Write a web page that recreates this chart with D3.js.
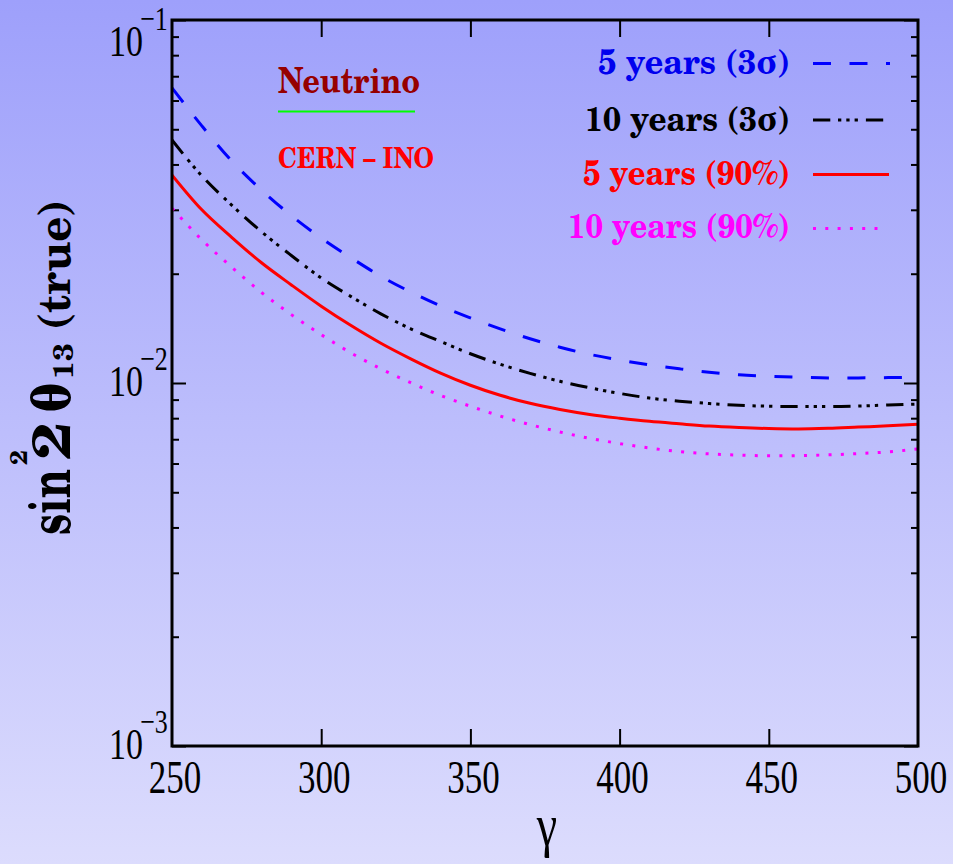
<!DOCTYPE html>
<html>
<head>
<meta charset="utf-8">
<script src="https://cdn.jsdelivr.net/npm/d3@7"></script>
<style>
body { margin: 0; }
svg { display: block; }
</style>
</head>
<body>
<div id="chart"></div>
<script>
// gamma values (x) and the four sensitivity curves
const gammaValues = [250,260,270,280,290,300,310,320,330,340,350,360,370,380,390,400,410,420,430,440,450,460,470,480,490,500];
const fiveYears3Sigma = [0.0650,0.0511,0.0409,0.0340,0.0289,0.02508,0.02213,0.01968,0.01781,0.01630,0.01511,0.01409,0.01324,0.01255,0.01199,0.01157,0.01122,0.01094,0.01070,0.01054,0.01044,0.01037,0.01033,0.01033,0.01035,0.01038];
const tenYears3Sigma = [0.0467,0.0372,0.0309,0.0261,0.02245,0.01947,0.01730,0.01551,0.01410,0.01301,0.01204,0.01126,0.01063,0.01011,0.00970,0.00936,0.00909,0.00891,0.00878,0.00868,0.00863,0.00861,0.00861,0.00864,0.00870,0.00875];
const fiveYears90 = [0.0374,0.0300,0.0252,0.02144,0.01863,0.01628,0.01440,0.01287,0.01166,0.01065,0.00986,0.00925,0.00879,0.00845,0.00819,0.00800,0.00784,0.00772,0.00761,0.00754,0.00749,0.00747,0.00750,0.00756,0.00762,0.00770];
const tenYears90 = [0.0303,0.0248,0.02085,0.01776,0.01543,0.01359,0.01210,0.01094,0.01002,0.00924,0.00863,0.00811,0.00768,0.00733,0.00704,0.00681,0.00662,0.00647,0.00638,0.00633,0.00630,0.00631,0.00634,0.00639,0.00646,0.00658];

const seriesNames = ["5 years (3\u03c3)", "10 years (3\u03c3)", "5 years (90%)", "10 years (90%)"];
const xTickValues = [250,300,350,400,450,500];
const yDecades = [1e-3, 1e-2, 1e-1];
const yDecadeExponents = ["\u22123", "\u22122", "\u22121"];

const W = 953, H = 864;
const plot = { left: 172, right: 918, top: 20, bottom: 746 };

const svg = d3.select("#chart").append("svg")
  .attr("width", W).attr("height", H);

// background gradient
const defs = svg.append("defs");
const bg = defs.append("linearGradient").attr("id", "bgGrad")
  .attr("x1", "0%").attr("y1", "0%").attr("x2", "0%").attr("y2", "100%");
bg.append("stop").attr("offset", "0%").attr("stop-color", "#9ea0fb");
bg.append("stop").attr("offset", "100%").attr("stop-color", "#dcdcfd");
svg.append("rect").attr("width", W).attr("height", H).attr("fill", "url(#bgGrad)");

defs.append("clipPath").attr("id", "plotClip")
  .append("rect")
  .attr("x", plot.left).attr("y", plot.top)
  .attr("width", plot.right - plot.left).attr("height", plot.bottom - plot.top);

const x = d3.scaleLinear().domain([250, 500]).range([plot.left, plot.right]);
const y = d3.scaleLog().domain([1e-3, 1e-1]).range([plot.bottom, plot.top]);

// minor ticks 2..9 per decade
const minorTicks = [];
[1e-3, 1e-2].forEach(d => { for (let k = 2; k <= 9; k++) minorTicks.push(k * d); });
const innerX = xTickValues.slice(1, -1);

function styleAxis(g) {
  g.select(".domain").remove();
  g.selectAll("text").remove();
  g.selectAll(".tick line").attr("stroke", "#000").attr("stroke-width", 2);
}

svg.append("g").attr("transform", `translate(0,${plot.bottom})`)
  .call(d3.axisBottom(x).tickValues(innerX).tickSize(-17).tickSizeOuter(0)).call(styleAxis);
svg.append("g").attr("transform", `translate(0,${plot.top})`)
  .call(d3.axisTop(x).tickValues(innerX).tickSize(-17).tickSizeOuter(0)).call(styleAxis);
svg.append("g").attr("transform", `translate(${plot.left},0)`)
  .call(d3.axisLeft(y).tickValues(yDecades).tickSize(-14).tickSizeOuter(0)).call(styleAxis);
svg.append("g").attr("transform", `translate(${plot.left},0)`)
  .call(d3.axisLeft(y).tickValues(minorTicks).tickSize(-7).tickSizeOuter(0)).call(styleAxis);
svg.append("g").attr("transform", `translate(${plot.right},0)`)
  .call(d3.axisRight(y).tickValues(yDecades).tickSize(-14).tickSizeOuter(0)).call(styleAxis);
svg.append("g").attr("transform", `translate(${plot.right},0)`)
  .call(d3.axisRight(y).tickValues(minorTicks).tickSize(-7).tickSizeOuter(0)).call(styleAxis);

// curves
const series = [
  { name: seriesNames[0], values: fiveYears3Sigma, color: "#0000ff", dash: "18,18.5", legendEnd: 890, textColor: "#0000ee" },
  { name: seriesNames[1], values: tenYears3Sigma, color: "#000000", dash: "17.3,7.7,3.3,5,3.3,5,3.3,8", legendEnd: 884, textColor: "#000000" },
  { name: seriesNames[2], values: fiveYears90, color: "#ff0000", dash: null, legendEnd: 889, textColor: "#ff0000" },
  { name: seriesNames[3], values: tenYears90, color: "#ff00ff", dash: "3,9.3", legendEnd: 880, textColor: "#ff00ff" }
];

const line = d3.line()
  .x((d, i) => x(gammaValues[i]))
  .y(d => y(d))
  .curve(d3.curveMonotoneX);

const curves = svg.append("g").attr("clip-path", "url(#plotClip)");
series.forEach(s => {
  curves.append("path")
    .datum(s.values)
    .attr("d", line)
    .attr("fill", "none")
    .attr("stroke", s.color)
    .attr("stroke-width", 3)
    .attr("stroke-dasharray", s.dash);
});

// frame
svg.append("rect")
  .attr("x", plot.left).attr("y", plot.top)
  .attr("width", plot.right - plot.left).attr("height", plot.bottom - plot.top)
  .attr("fill", "none").attr("stroke", "#000").attr("stroke-width", 3);

// tick labels (tall Times-like digits)
const tickFont = "'Liberation Serif', 'Times New Roman', serif";
xTickValues.forEach(v => {
  svg.append("text")
    .attr("transform", `translate(${x(v) + 3},793) scale(1,1.3)`)
    .attr("text-anchor", "middle")
    .attr("font-family", tickFont)
    .attr("font-size", 35)
    .text(v);
});
yDecades.forEach((d, i) => {
  const base = Math.max(y(d) + 13, 56);
  svg.append("text")
    .attr("transform", `translate(143,${base}) scale(1,1.3)`)
    .attr("text-anchor", "end")
    .attr("font-family", tickFont)
    .attr("font-size", 34)
    .text("10");
  svg.append("text")
    .attr("transform", `translate(140,${base - 26}) scale(1,1.3)`)
    .attr("font-family", tickFont)
    .attr("font-size", 26)
    .text(yDecadeExponents[i]);
});

// x axis title
svg.append("text")
  .attr("transform", `translate(547,845) scale(1,1.3)`)
  .attr("text-anchor", "middle")
  .attr("font-family", tickFont)
  .attr("font-size", 46)
  .text("\u03b3");

// y axis title, rotated (Century Schoolbook style bold)
const boldFont = "'TeX Gyre Schola', 'DejaVu Serif', serif";
const yTitle = svg.append("g")
  .attr("transform", "translate(70,535) rotate(-90)")
  .attr("font-family", boldFont)
  .attr("font-weight", "bold")
  .attr("fill", "#000");
const yTitleParts = [
  { t: "sin", u: 0, v: 0, size: 60, len: 66 },
  { t: "2", u: 70, v: -43, size: 24, len: 15 },
  { t: "2", u: 75, v: 0, size: 54, len: 38 },
  { t: "\u03b8", u: 122, v: 0, size: 54, len: 31 },
  { t: "13", u: 156, v: 3, size: 28, len: 36 },
  { t: "(true)", u: 205, v: 0, size: 44, len: 130 }
];
yTitleParts.forEach(p => {
  yTitle.append("text")
    .attr("x", p.u).attr("y", p.v)
    .attr("font-size", p.size)
    .attr("textLength", p.len)
    .attr("lengthAdjust", "spacingAndGlyphs")
    .text(p.t);
});

// legend
const legendTextEnd = 790;
const legendWidths = [192, 205, 207, 222];
const legendRows = [74, 131, 185, 238];
const legendLineY = [63.5, 120, 174.5, 228.5];
series.forEach((s, i) => {
  svg.append("text")
    .attr("x", legendTextEnd - legendWidths[i])
    .attr("y", legendRows[i])
    .attr("font-family", boldFont)
    .attr("font-weight", "bold")
    .attr("font-size", 35)
    .attr("textLength", legendWidths[i])
    .attr("lengthAdjust", "spacingAndGlyphs")
    .attr("fill", s.textColor)
    .text(s.name);
  svg.append("line")
    .attr("x1", 813).attr("x2", s.legendEnd)
    .attr("y1", legendLineY[i]).attr("y2", legendLineY[i])
    .attr("stroke", s.color)
    .attr("stroke-width", 3)
    .attr("stroke-dasharray", s.dash);
});

// annotation
svg.append("text")
  .attr("x", 278).attr("y", 93)
  .attr("font-family", boldFont).attr("font-weight", "bold")
  .attr("font-size", 36)
  .attr("textLength", 142).attr("lengthAdjust", "spacingAndGlyphs")
  .attr("fill", "#960000")
  .text("Neutrino");
svg.append("line")
  .attr("x1", 278).attr("x2", 415).attr("y1", 111.5).attr("y2", 111.5)
  .attr("stroke", "#00ff00").attr("stroke-width", 2);
svg.append("text")
  .attr("x", 278).attr("y", 168)
  .attr("font-family", boldFont).attr("font-weight", "bold")
  .attr("font-size", 29)
  .attr("textLength", 156).attr("lengthAdjust", "spacingAndGlyphs")
  .attr("fill", "#ff0000")
  .text("CERN \u2013 INO");
</script>
</body>
</html>
